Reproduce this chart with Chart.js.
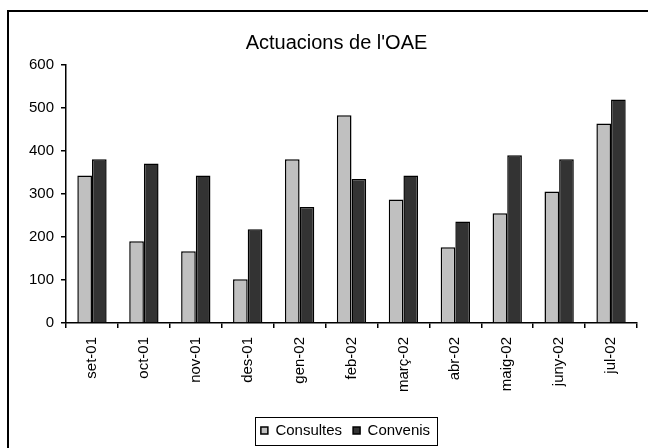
<!DOCTYPE html>
<html>
<head>
<meta charset="utf-8">
<script src="https://cdn.jsdelivr.net/npm/chart.js@4/dist/chart.umd.min.js"></script>
<style>
    html, body { margin: 0; padding: 0; background: #fff; overflow: hidden; }
    canvas { display: block; }
</style>
</head>
<body>
<canvas id="actuacions" width="673" height="460"></canvas>
<script>
const months = ['set-01', 'oct-01', 'nov-01', 'des-01', 'gen-02', 'feb-02', 'març-02', 'abr-02', 'maig-02', 'juny-02', 'jul-02'];
const consultes = [343, 190, 167, 102, 381, 483, 287, 176, 255, 306, 464];
const convenis = [381, 371, 343, 218, 270, 335, 343, 236, 390, 381, 520];
const yTicks = [0, 100, 200, 300, 400, 500, 600];

const fontFamily = "'Liberation Sans', Arial, sans-serif";

// moves the title and legend off the canvas centre and frames the whole chart
const framePlugin = {
    id: 'frame',
    afterLayout(chart) {
        chart.titleBlock.left += 7;
        chart.titleBlock.right += 7;
        chart.legend.left += 16;
        chart.legend.right += 16;
    },
    afterDraw(chart) {
        let ctx = chart.ctx;
        ctx.save();
        ctx.strokeStyle = '#000';
        ctx.lineWidth = 2;
        ctx.strokeRect(8, 11, 720, 520);

        let boxes = chart.legend.legendHitBoxes;
        if (boxes.length) {
            let first = boxes[0];
            let last = boxes[boxes.length - 1];
            let left = Math.round(first.left - 6) + 0.5;
            let right = Math.round(last.left + last.width + 7) + 0.5;
            let top = Math.round(first.top - 6) + 0.5;
            let bottom = Math.round(first.top + first.height + 7) + 0.5;
            ctx.lineWidth = 1;
            ctx.strokeRect(left, top, right - left, bottom - top);
        }
        ctx.restore();
    }
};

new Chart(document.getElementById('actuacions'), {
    type: 'bar',
    data: {
        labels: months,
        datasets: [{
            label: 'Consultes',
            data: consultes,
            backgroundColor: '#c0c0c0',
            borderColor: '#000',
            borderWidth: 1.5
        },
        {
            label: 'Convenis',
            data: convenis,
            backgroundColor: '#333333',
            borderColor: '#000',
            borderWidth: 1.5
        }]
    },
    options: {
        responsive: false,
        animation: false,
        layout: { padding: { left: 22, right: 36, top: 0, bottom: 12 } },
        datasets: {
            bar: { categoryPercentage: 0.565, barPercentage: 1 }
        },
        plugins: {
            title: {
                display: true,
                text: "Actuacions de l'OAE",
                color: '#000',
                font: { family: fontFamily, size: 20, weight: 'normal' },
                padding: { top: 31, bottom: 10 }
            },
            legend: {
                position: 'bottom',
                labels: {
                    color: '#000',
                    font: { family: fontFamily, size: 15 },
                    boxWidth: 7,
                    boxHeight: 7,
                    padding: 11
                }
            },
            tooltip: { enabled: false }
        },
        scales: {
            x: {
                grid: {
                    offset: true,
                    drawOnChartArea: false,
                    color: '#000',
                    tickLength: 5,
                    lineWidth: 1.5
                },
                border: { color: '#000', width: 1.5 },
                ticks: {
                    color: '#000',
                    font: { family: fontFamily, size: 15 },
                    minRotation: 90,
                    maxRotation: 90,
                    padding: 9,
                    autoSkip: false
                },
                afterFit(scale) {
                    scale.height = 89;
                }
            },
            y: {
                min: 0,
                max: 600,
                afterBuildTicks(scale) {
                    scale.ticks = yTicks.map(v => ({ value: v }));
                },
                grid: {
                    drawOnChartArea: false,
                    color: '#000',
                    tickLength: 5,
                    lineWidth: 1.5
                },
                border: { color: '#000', width: 1.5 },
                ticks: {
                    color: '#000',
                    font: { family: fontFamily, size: 15 },
                    padding: 7
                }
            }
        }
    },
    plugins: [framePlugin]
});
</script>
</body>
</html>
